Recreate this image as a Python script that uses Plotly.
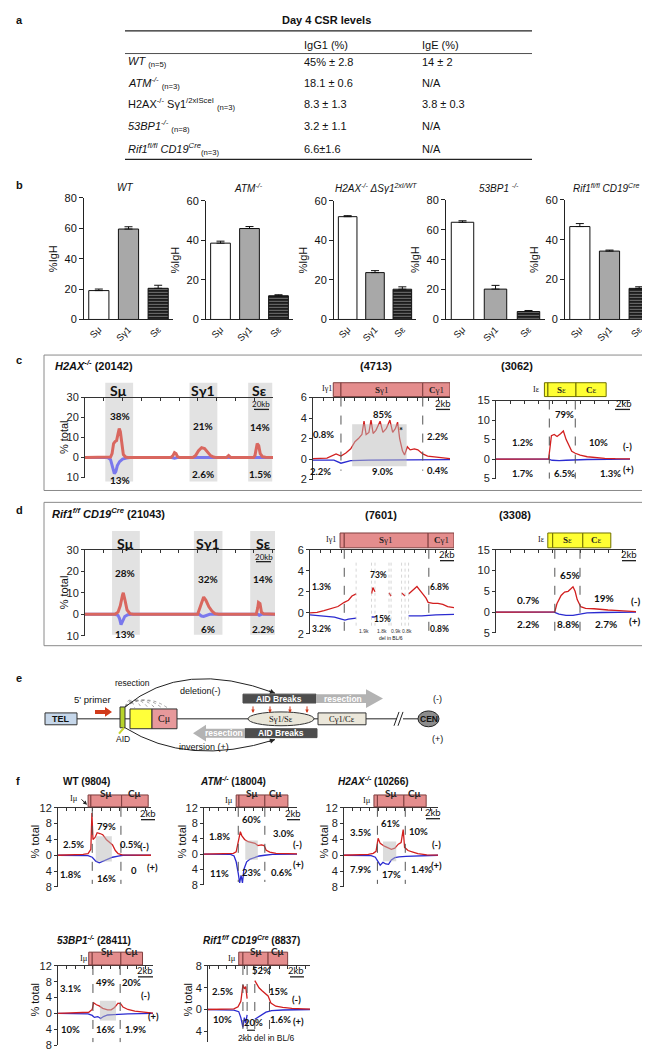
import plotly.graph_objects as go

W, H = 650, 1049
SANS = "Liberation Sans"
CAL = "Lato"
SERIF = "Liberation Serif"
RED, BLUE = "#d21f1f", "#2b2bd0"
RED_T, BLUE_T = "#d9675f", "#7a78ec"
PINK, PINK_EDGE = "#e48d8d", "#7f3f3f"
YEL, YEL_EDGE = "#ffff33", "#6f6f00"

# ---- panel a: Day 4 CSR levels ----
GENOTYPES = [
    "<i>WT</i> <sub>(n=5)</sub>",
    "<i>ATM<sup>-/-</sup></i> <sub>(n=3)</sub>",
    "H2AX<sup>-/-</sup> Sγ1<sup>/2xISceI</sup> <sub>(n=3)</sub>",
    "<i>53BP1<sup>-/-</sup></i> <sub>(n=8)</sub>",
    "<i>Rif1<sup>fl/fl</sup> CD19<sup>Cre</sup></i><sub>(n=3)</sub>",
]
IGG1 = ["45% ± 2.8", "18.1 ± 0.6", "8.3 ± 1.3", "3.2 ± 1.1", "6.6±1.6"]
IGE = ["14 ± 2", "N/A", "3.8 ± 0.3", "N/A", "N/A"]

# ---- panel b: %IgH junctions per switch region ----
S_REGIONS = ["Sμ", "Sγ1", "Sε"]
WT_IGH, WT_ERR = [19, 59.5, 20.5], [1, 1.5, 2]
ATM_IGH, ATM_ERR = [38.6, 46, 12], [1, 1, 0.5]
H2AX_IGH, H2AX_ERR = [52, 23.7, 15.3], [0.5, 1, 1.2]
BP1_IGH, BP1_ERR = [65, 20.3, 5.3], [1, 2.5, 0.7]
RIF1_IGH, RIF1_ERR = [46.6, 34.3, 15.6], [1.5, 0.5, 0.8]

# ---- panel c/d: junction profiles (x in kb, y in % total; + strand plotted negative) ----
C1_RED_KB = [0, 20, 34, 36, 38, 40, 42, 44, 45.5, 47, 49, 51, 54, 58, 114, 117, 119, 121, 123, 126,
             143, 147, 151, 155, 159, 163, 167, 171, 175, 188, 191, 194, 224, 226, 228, 229, 231, 233, 236, 240, 250]
C1_RED = [0, 0, 0.3, 2, 7, 8, 8.5, 12, 14.5, 13, 6, 1.5, 0.3, 0, 0, 1, 2.5, 2, 0.5, 0,
          0, 1, 3.5, 5, 4.5, 2.5, 1, 0.3, 0, 0, 1, 0, 0, 1, 5, 7, 6, 2, 0.5, 0.2, 0]
C1_BLUE_KB = [0, 30, 34, 37, 39, 41, 43, 46, 50, 55, 60, 115, 119, 123, 150, 153, 158, 162, 226, 229, 232, 250]
C1_BLUE = [0, 0, -1, -5, -8, -7, -4, -2, -0.7, -0.2, 0, 0, -0.3, 0, 0, -0.3, -0.3, 0, 0, -0.3, 0, 0]

C2_RED_KB = [0, 1, 2, 3.3, 4, 4.7, 5.4, 6.0, 6.5, 7.0, 7.3, 7.6, 8.0, 8.3, 8.6, 9.0, 9.6, 10.0, 10.5,
             11.0, 11.4, 11.8, 12.1, 12.4, 12.8, 13.1, 13.5, 13.9, 14.5, 15.0, 15.7, 16.4, 17.9, 19.6]
C2_RED = [0.05, 0.1, 0.1, 0.5, 0.3, 0.6, 1.0, 1.7, 2.0, 2.4, 3.7, 2.4, 2.6, 3.8, 2.5, 2.8, 3.7, 2.6, 3.0,
          3.8, 2.6, 3.0, 3.6, 2.0, 0.8, 0.4, 1.2, 0.9, 1.0, 0.9, 0.5, 0.3, 0.2, 0.05]
C2_BLUE_KB = [0, 3, 4, 4.6, 5.4, 8, 12, 15.7, 19.6]
C2_BLUE = [-0.1, -0.1, -0.4, -0.3, -0.15, -0.1, -0.1, -0.05, -0.05]

C3_RED_KB = [0, 7.5, 7.7, 7.9, 8.3, 8.7, 9.2, 9.6, 10.0, 10.4, 10.8, 11.3, 12, 13, 14, 15.5, 17, 19.1]
C3_RED = [0, 0.05, 3, 6.0, 6.3, 5.8, 6.5, 7.2, 5.0, 3.5, 2.0, 1.5, 1.0, 0.6, 0.4, 0.2, 0.1, 0.05]
C3_BLUE_KB = [0, 7.5, 8, 9, 10, 11, 13, 19.1]
C3_BLUE = [0, 0, -0.3, -0.4, -0.3, -0.2, -0.1, 0]

D1_RED_KB = [0, 40, 44, 47, 50, 51, 53, 56, 60, 64, 150, 153, 156, 158, 161, 165, 169, 173, 178,
             228, 230, 231, 233, 235, 238, 245, 253]
D1_RED = [0, 0, 1, 4, 9, 10, 7, 2, 0.3, 0, 0, 3, 7, 8, 6.5, 3.5, 1.5, 0.3, 0, 0, 3, 5.5, 5, 1, 0.2, 0, 0]
D1_BLUE_KB = [0, 40, 44, 46, 48, 50, 53, 57, 62, 152, 155, 158, 162, 166, 230, 232, 235, 253]
D1_BLUE = [0, 0, -0.5, -2, -4.8, -3.5, -1, -0.2, 0, 0, -0.8, -1, -0.5, 0, 0, -0.5, 0, 0]

D2_RED_KB = [0, 1, 2, 3, 4, 4.9, 5.5, 6.0, 6.6, 6.7, 8.8, 9.0, 9.3, 9.4, 11.3, 11.6, 11.7, 13.1, 13.6, 13.7,
             14.1, 14.7, 15.3, 15.9, 16.6, 16.9, 17.6, 18.3, 19.0, 19.7, 20.6]
D2_RED = [0, 0.05, 0.2, 0.4, 0.6, 1.0, 1.2, 1.6, 1.8, None, 1.8, 2.4, 2.0, None, 1.9, 1.6, None, 1.9, 1.6, None,
          1.8, 2.2, 2.5, 2.0, 1.4, 1.0, 0.9, 0.9, 0.8, 0.6, 0.5]
D2_BLUE_KB = [0, 2, 3.5, 4.5, 5, 5.5, 6.6, 6.7, 8.8, 9.3, 9.4, 14.1, 16, 18, 20.6]
D2_BLUE = [-0.2, -0.3, -0.4, -0.6, -0.7, -0.6, -0.5, None, -0.4, -0.4, None, -0.3, -0.3, -0.2, -0.15]

D3_RED_KB = [0, 8.4, 8.7, 9.3, 9.8, 10.3, 10.7, 11.0, 11.3, 11.6, 12.1, 12.8, 14, 15, 16, 17, 18, 20]
D3_RED = [0, 0.05, 2.0, 4.0, 4.8, 5.0, 5.6, 6.1, 5.0, 3.0, 1.3, 0.9, 0.8, 0.6, 0.5, 0.4, 0.3, 0.1]
D3_BLUE_KB = [0, 8.3, 9, 10, 11, 12, 13, 15, 20]
D3_BLUE = [0, 0, -0.5, -0.8, -0.8, -0.5, -0.2, -0.1, 0]

# ---- panel f: Sμ-region profiles ----
F1_RED_KB = [0, 2.5, 3.6, 4.3, 4.7, 4.85, 5.0, 5.3, 5.6, 6.0, 6.4, 6.9, 7.4, 7.8, 8.2, 8.6, 9.2, 13.3]
F1_RED = [0, 0.05, 0.2, 0.4, 1.5, 10.7, 4, 4.5, 5.7, 5.5, 5.2, 4.0, 3.2, 2.6, 1.2, 0.4, 0.1, 0]
F1_BLUE_KB = [0, 4.3, 4.9, 5.4, 5.9, 6.4, 7.1, 7.8, 8.6, 9.3, 13.3]
F1_BLUE = [0, -0.1, -0.5, -1.5, -1.9, -1.5, -1.0, -0.5, -0.2, 0, 0]

F2_RED_KB = [1.7, 5, 5.9, 6.3, 6.6, 6.9, 7.1, 7.5, 8.0, 8.6, 9.0, 9.4, 9.9, 10.3, 10.6, 11.1, 12, 13.7, 15]
F2_RED = [0, 0.05, 0.2, 0.6, 3, 5.8, 4.8, 3.8, 3.2, 3.0, 2.8, 2.2, 2.4, 2.2, 1.0, 0.5, 0.2, 0.1, 0.05]
F2_BLUE_KB = [1.7, 5.5, 6.0, 6.3, 6.6, 6.8, 7.0, 7.2, 7.4, 7.8, 8.3, 9.0, 9.6, 10.4, 11.5, 15]
F2_BLUE = [0, -0.1, -0.5, -2, -5, -7.5, -5.5, -7.5, -4, -2, -1.3, -0.8, -0.5, -0.3, -0.1, 0]

F3_RED_KB = [0, 3, 3.6, 4.3, 4.7, 5.0, 5.3, 5.9, 6.4, 6.9, 7.4, 7.9, 8.3, 8.6, 8.8, 9.3, 10, 10.7, 12, 13.6]
F3_RED = [0, 0.05, 0.2, 0.5, 1, 4.3, 3, 2.3, 1.8, 1.5, 1.8, 2.8, 3.2, 6.5, 2, 1.2, 0.8, 0.4, 0.1, 0.05]
F3_BLUE_KB = [0, 4, 4.6, 5.0, 5.3, 5.7, 6.1, 6.5, 6.9, 7.4, 8, 9, 10, 11, 13.6]
F3_BLUE = [0, -0.1, -0.5, -1.8, -2.5, -1.8, -2.2, -2.3, -1.2, -0.6, -0.4, -0.3, -0.2, -0.1, 0]

F4_RED_KB = [0, 3.5, 4.4, 4.9, 5.1, 5.5, 5.9, 6.4, 7.1, 7.6, 8.1, 8.6, 9.0, 9.3, 10, 11, 12, 13.6]
F4_RED = [0, 0.1, 0.3, 1.0, 2.7, 2.2, 1.9, 1.3, 0.9, 0.9, 1.5, 2.6, 2.4, 1.6, 1.0, 0.6, 0.4, 0.1]
F4_BLUE_KB = [0, 4.3, 4.9, 5.2, 5.7, 6.1, 6.5, 7.1, 8, 9, 10, 13.6]
F4_BLUE = [0, -0.1, -0.5, -1.0, -0.8, -1.3, -0.8, -0.4, -0.3, -0.2, -0.1, 0]

F5_RED_KB = [2.3, 6, 6.6, 7.0, 7.3, 7.5, 7.7, 7.9, 8.0, 9.0, 9.3, 9.6, 10, 10.4, 10.9, 11.3, 12, 13, 14.3, 16.9]
F5_RED = [0, 0.1, 0.5, 1.5, 4.5, 3.8, 4.2, 2.0, None, 5.3, 4.5, 4.0, 3.5, 3.0, 2.5, 1.2, 0.6, 0.4, 0.2, 0.05]
F5_BLUE_KB = [2.3, 6, 6.7, 7.0, 7.3, 7.5, 7.7, 7.9, 8.0, 9.0, 9.4, 9.9, 10.6, 11.4, 13, 16.9]
F5_BLUE = [0, -0.1, -0.4, -1.5, -3.3, -1.5, -2.5, -1.0, None, -1.8, -1.5, -1.0, -0.5, -0.2, -0.1, 0]


def fx(px):
    return px / W


def fy(py):
    return 1 - py / H


fig = go.Figure()
lay = dict(width=W, height=H, margin=dict(l=0, r=0, t=0, b=0), paper_bgcolor="white",
           plot_bgcolor="white", showlegend=False, font=dict(family=SANS, color="#111"))
shapes, annos = [], []


def names(n):
    s = "" if n == 1 else str(n)
    return "xaxis" + s, "yaxis" + s, "x" + s, "y" + s


def label(s, px, py, size=10, family=SANS, color="#111", xanchor="center", angle=0):
    annos.append(dict(text=s, x=fx(px), y=fy(py), xref="paper", yref="paper", showarrow=False,
                      xanchor=xanchor, yanchor="middle", textangle=angle,
                      font=dict(size=size, family=family, color=color)))


def pct(s, px, py, size=9.5):
    label(f"<b>{s}</b>", px, py, size=size, family=CAL)


def line(x0, y0, x1, y1, color="#222", width=1, dash="solid"):
    shapes.append(dict(type="line", xref="paper", yref="paper", x0=fx(x0), y0=fy(y0), x1=fx(x1), y1=fy(y1),
                       line=dict(color=color, width=width, dash=dash)))


def rect(x0, y0, x1, y1, fill, edge="#333", width=1, kind="rect"):
    shapes.append(dict(type=kind, xref="paper", yref="paper", x0=fx(x0), y0=fy(y1), x1=fx(x1), y1=fy(y0),
                       fillcolor=fill, line=dict(color=edge, width=width)))


def poly(points, fill):
    d = "M " + " L ".join(f"{fx(x):.5f},{fy(y):.5f}" for x, y in points) + " Z"
    shapes.append(dict(type="path", xref="paper", yref="paper", path=d, fillcolor=fill, line=dict(width=0)))


def curve(p0, c, p1, color="#222", width=1, dash="solid"):
    d = (f"M {fx(p0[0]):.5f},{fy(p0[1]):.5f} Q {fx(c[0]):.5f},{fy(c[1]):.5f} "
         f"{fx(p1[0]):.5f},{fy(p1[1]):.5f}")
    shapes.append(dict(type="path", xref="paper", yref="paper", path=d, line=dict(color=color, width=width, dash=dash)))


def head(px, py, dx, dy, color="#222", size=1.0, width=1):
    annos.append(dict(x=fx(px), y=fy(py), xref="paper", yref="paper", ax=dx, ay=dy, text="",
                      showarrow=True, arrowhead=2, arrowsize=size, arrowwidth=width,
                      arrowcolor=color, standoff=0))


def profile(n, box, xr, yr, yticks, red, blue, dtick, thick=False):
    l, t, r, b = box
    xa, ya, xs, ys = names(n)
    lay[xa] = dict(domain=[fx(l), fx(r)], range=xr, anchor=ys, side="top", showline=True,
                   linecolor="#333", linewidth=1, ticks="inside", ticklen=3, tickcolor="#333",
                   tick0=0, dtick=dtick, showticklabels=False, showgrid=False, zeroline=False)
    lay[ya] = dict(domain=[fy(b), fy(t)], range=yr, anchor=xs, showline=True, linecolor="#333",
                   linewidth=1, ticks="outside", ticklen=3, tickcolor="#333", tickvals=yticks,
                   ticktext=[str(abs(v)) for v in yticks], tickfont=dict(size=11, family=SANS, color="#222"),
                   showgrid=False, zeroline=False)
    w = 3 if thick else 1.3
    fig.add_trace(go.Scatter(x=blue[0], y=blue[1], mode="lines", xaxis=xs, yaxis=ys, hoverinfo="skip",
                             line=dict(color=BLUE_T if thick else BLUE, width=w), connectgaps=False))
    fig.add_trace(go.Scatter(x=red[0], y=red[1], mode="lines", xaxis=xs, yaxis=ys, hoverinfo="skip",
                             line=dict(color=RED_T if thick else RED, width=w), connectgaps=False))
    return xs, ys


def genes(xs, y0, y1, items, fam=SERIF, size=9):
    for text, a, b, fill, edge in items:
        shapes.append(dict(type="rect", xref=xs, yref="paper", x0=a, x1=b, y0=fy(y1), y1=fy(y0),
                           fillcolor=fill, line=dict(color=edge, width=1)))
        if text:
            annos.append(dict(text=text, x=(a + b) / 2, y=fy((y0 + y1) / 2), xref=xs, yref="paper",
                              showarrow=False, font=dict(size=size, family=fam, color="#222")))


def vdash(xs, kb, y0, y1, color="#555", dash="dash", width=1):
    shapes.append(dict(type="line", xref=xs, yref="paper", x0=kb, x1=kb, y0=fy(y0), y1=fy(y1),
                       line=dict(color=color, width=width, dash=dash)))


def band(xs, ys, x0, x1, y0, y1):
    shapes.append(dict(type="rect", xref=xs, yref=ys, x0=x0, x1=x1, y0=y0, y1=y1, layer="above",
                       fillcolor="rgba(185,185,185,0.5)", line=dict(width=0)))


def scalebar(text, px, py, x0, x1, ly, size=9.5):
    label(text, px, py, size=size, family=CAL)
    line(x0, ly, x1, ly, width=1.3)


# ================= panel letters =================
for letter, py in [("a", 6), ("b", 173), ("c", 350), ("d", 502), ("e", 672), ("f", 776)]:
    label(f"<b>{letter}</b>", 6, py, size=11, xanchor="left")

# ================= a: table =================
label("<b>Day 4 CSR levels</b>", 318, 6, size=11)
line(117, 17, 524, 17, width=1.2)
line(117, 40, 524, 40, width=0.8)
line(117, 147, 524, 147, width=1.2)
label("IgG1 (%)", 294, 31, size=11, xanchor="left")
label("IgE (%)", 412, 31, size=11, xanchor="left")
for g, a, e, py in zip(GENOTYPES, IGG1, IGE, [49, 70, 91, 113, 137]):
    label(g, 118, py, size=11, xanchor="left")
    label(a, 294, py, size=11, xanchor="left")
    label(e, 412, py, size=11, xanchor="left")

# ================= b: bar charts =================
bar_specs = [
    (12, (76, 186, 165, 309), 80, WT_IGH, WT_ERR, "<i>WT</i>", 117),
    (13, (198, 189, 285, 309), 60, ATM_IGH, ATM_ERR, "<i>ATM<sup>-/-</sup></i>", 240),
    (14, (326, 189, 408, 309), 60, H2AX_IGH, H2AX_ERR, "<i>H2AX<sup>-/-</sup> ΔSγ1<sup>2xI/WT</sup></i>", 368),
    (15, (438, 188, 537, 309), 80, BP1_IGH, BP1_ERR, "<i>53BP1 <sup>-/-</sup></i>", 491),
    (16, (557, 188, 646, 309), 60, RIF1_IGH, RIF1_ERR, "<i>Rif1<sup>fl/fl</sup> CD19<sup>Cre</sup></i>", 598),
]
for n, (l, t, r, b), ymax, vals, errs, title, tx in bar_specs:
    xa, ya, xs, ys = names(n)
    lay[xa] = dict(domain=[fx(l), fx(r)], anchor=ys, showline=True, linecolor="#222", linewidth=1,
                   ticks="", tickangle=-45, tickfont=dict(size=9.5, family=SANS), range=[-0.5, 2.5],
                   showgrid=False, zeroline=False)
    lay[ya] = dict(domain=[fy(b), fy(t)], range=[0, ymax], dtick=20, anchor=xs, showline=True,
                   linecolor="#222", linewidth=1, ticks="outside", ticklen=4, tickcolor="#222",
                   tickfont=dict(size=11, family=SANS), showgrid=False, zeroline=False,
                   title=dict(text="%IgH", font=dict(size=11, family=SANS), standoff=4))
    fig.add_trace(go.Bar(
        x=S_REGIONS, y=vals, xaxis=xs, yaxis=ys, width=0.68, hoverinfo="skip",
        marker=dict(color=["white", "#a8a8a8", "#1c1c1c"], line=dict(color="#111", width=1),
                    pattern=dict(shape=["", "", "-"], fgcolor="#5c5c5c", size=3, solidity=0.25)),
        error_y=dict(type="data", array=errs, arrayminus=[0, 0, 0], symmetric=False,
                     color="#111", thickness=1, width=4),
    ))
    label(title, tx, 176, size=10)

# ================= c / d frames =================
rect(36, 345, 648, 482, "rgba(0,0,0,0)", edge="#8a8a8a", width=1)
rect(36, 494, 648, 639, "rgba(0,0,0,0)", edge="#8a8a8a", width=1)
label("<b><i>H2AX<sup>-/-</sup></i> (20142)</b>", 45, 355, size=11, xanchor="left")
label("<b><i>Rif1<sup>f/f</sup> CD19<sup>Cre</sup></i> (21043)</b>", 42, 505, size=11, xanchor="left")

# ---- c1 ----
xs, ys = profile(1, (77, 388, 265, 469), [0, 250], [-10, 30], [-10, 0, 10, 20, 30],
                 (C1_RED_KB, C1_RED), (C1_BLUE_KB, C1_BLUE), 25, thick=True)
for a, b in [(27, 64), (139, 176), (217, 249)]:
    shapes.append(dict(type="rect", xref=xs, yref="paper", x0=a, x1=b, y0=fy(473), y1=fy(373),
                       layer="below", fillcolor="#e2e2e2", line=dict(width=0)))
for s, px in [("Sμ", 111), ("Sγ1", 195), ("Sε", 252)]:
    label(f"<b>{s}</b>", px, 381, size=14, family=CAL)
for s, px, py in [("38%", 112, 407), ("21%", 195, 417), ("14%", 252, 418),
                  ("13%", 112, 471), ("2.6%", 195, 465), ("1.5%", 252, 465)]:
    pct(s, px, py, size=10)
scalebar("20kb", 253, 395, 246, 261, 400, size=8)
label("% total", 56, 428, size=11, angle=-90)

# ---- c2 ----
xs, ys = profile(2, (305, 388, 442, 471), [0, 19.6], [-2, 6], [-2, 0, 2, 4, 6],
                 (C2_RED_KB, C2_RED), (C2_BLUE_KB, C2_BLUE), 1.5)
genes(xs, 373, 387, [("", 2.9, 4.0, PINK, PINK_EDGE), ("<b>S</b>γ1", 4.0, 15.7, PINK, PINK_EDGE),
                     ("<b>C</b>γ1", 15.7, 19.6, PINK, PINK_EDGE)])
label("Iγ1", 319, 379, size=8, family=SERIF)
vdash(xs, 4.0, 388, 462)
vdash(xs, 15.7, 388, 462)
band(xs, ys, 5.6, 13.4, -0.7, 3.4)
label("<b>(4713)</b>", 368, 356, size=11)
for s, px, py in [("85%", 375, 405), ("0.8%", 315, 425), ("2.2%", 429, 427), ("2.2%", 312, 463),
                  ("9.0%", 375, 463), ("0.4%", 429, 462), ("*", 393, 421)]:
    pct(s, px, py)
scalebar("2kb", 435, 394, 428, 442, 400)

# ---- c3 ----
xs, ys = profile(3, (488, 391, 622, 470), [0, 19.1], [-5, 15], [-5, 0, 5, 10, 15],
                 (C3_RED_KB, C3_RED), (C3_BLUE_KB, C3_BLUE), 2)
genes(xs, 373, 387, [("", 6.9, 7.4, YEL, YEL_EDGE), ("<b>S</b>ε", 7.4, 11.4, YEL, YEL_EDGE),
                     ("<b>C</b>ε", 11.4, 15.7, YEL, YEL_EDGE)])
label("Iε", 528, 380, size=8, family=SERIF)
vdash(xs, 7.6, 391, 470)
vdash(xs, 11.3, 391, 470)
label("<b>(3062)</b>", 509, 356, size=11)
for s, px, py in [("79%", 556, 405), ("1.2%", 514, 433), ("10%", 590, 433), ("(-)", 619, 438),
                  ("1.7%", 514, 465), ("6.5%", 556, 465), ("1.3%", 602, 465), ("(+)", 620, 461)]:
    pct(s, px, py)
scalebar("2kb", 616, 394, 607, 622, 400)

# ---- d1 ----
xs, ys = profile(4, (77, 542, 267, 629), [0, 253], [-10, 30], [-10, 0, 10, 20, 30],
                 (D1_RED_KB, D1_RED), (D1_BLUE_KB, D1_BLUE), 25, thick=True)
for a, b in [(36, 73), (145, 183), (220, 253)]:
    shapes.append(dict(type="rect", xref=xs, yref="paper", x0=a, x1=b, y0=fy(628), y1=fy(523),
                       layer="below", fillcolor="#e2e2e2", line=dict(width=0)))
for s, px in [("Sμ", 117), ("Sγ1", 200), ("Sε", 255)]:
    label(f"<b>{s}</b>", px, 536, size=14, family=CAL)
for s, px, py in [("28%", 117, 565), ("32%", 200, 572), ("14%", 255, 572),
                  ("13%", 117, 627), ("6%", 200, 622), ("2.2%", 255, 622)]:
    pct(s, px, py, size=10)
scalebar("20kb", 256, 549, 248, 263, 554, size=8)
label("% total", 56, 585, size=11, angle=-90)

# ---- d2 ----
xs, ys = profile(5, (302, 542, 446, 627), [0, 20.6], [-2, 6], [-2, 0, 2, 4, 6],
                 (D2_RED_KB, D2_RED), (D2_BLUE_KB, D2_BLUE), 1.5)
genes(xs, 525, 540, [("", 4.3, 4.9, PINK, PINK_EDGE), ("<b>S</b>γ1", 4.9, 16.9, PINK, PINK_EDGE),
                     ("<b>C</b>γ1", 16.9, 20.6, PINK, PINK_EDGE)])
label("Iγ1", 323, 532, size=8, family=SERIF)
vdash(xs, 4.9, 542, 625)
vdash(xs, 17.0, 542, 625)
for kb in [6.6, 8.8, 9.3, 11.3, 11.6, 13.1, 13.6, 14.1]:
    vdash(xs, kb, 555, 620, color="#c4c4c4", dash="dot", width=0.7)
for s, kb in [("1.9k", 7.7), ("1.8k", 10.3), ("0.9k", 12.35), ("0.8k", 13.85)]:
    annos.append(dict(text=s, x=kb, y=fy(624), xref=xs, yref="paper", showarrow=False,
                      font=dict(size=5, family=SANS, color="#333")))
label("del in BL/6", 383, 631, size=5)
label("<b>(7601)</b>", 373, 507, size=11)
for s, px, py in [("73%", 370, 567), ("1.3%", 313, 580), ("6.8%", 431, 580), ("3.2%", 313, 622),
                  ("15%", 375, 612), ("0.8%", 431, 622)]:
    pct(s, px, py, size=8.5)
scalebar("2kb", 439, 547, 432, 446, 553)

# ---- d3 ----
xs, ys = profile(6, (488, 542, 628, 626), [0, 20], [-5, 15], [-5, 0, 5, 10, 15],
                 (D3_RED_KB, D3_RED), (D3_BLUE_KB, D3_BLUE), 2)
genes(xs, 525, 540, [("", 7.4, 8.1, YEL, YEL_EDGE), ("<b>S</b>ε", 8.1, 12.4, YEL, YEL_EDGE),
                     ("<b>C</b>ε", 12.4, 16.4, YEL, YEL_EDGE)])
label("Iε", 533, 532, size=8, family=SERIF)
vdash(xs, 8.4, 542, 626)
vdash(xs, 12.0, 542, 626)
label("<b>(3308)</b>", 507, 507, size=11)
for s, px, py in [("65%", 562, 567), ("0.7%", 520, 593), ("19%", 596, 591), ("(-)", 627, 594),
                  ("2.2%", 520, 617), ("8.8%", 560, 617), ("2.7%", 598, 617), ("(+)", 627, 614)]:
    pct(s, px, py, size=10)
scalebar("2kb", 621, 547, 614, 628, 553)

# ================= e: schematic =================
line(69, 713, 112, 713)
line(117, 713, 122, 713)
line(169, 713, 240, 713)
line(306, 713, 310, 713)
line(358, 713, 389, 713)
line(395, 713, 410, 713)
line(386, 720, 391, 706)
line(390, 720, 395, 706)
rect(37, 707, 69, 719, "#c6d7ea")
label("<b>TEL</b>", 53, 713, size=9)
poly([(87, 704), (97, 704), (97, 701), (104, 706), (97, 711), (97, 708), (87, 708)], "#d13a1b")
label("5' primer", 84, 693, size=9.5)
rect(112, 701, 117, 722, "#b7d42d")
rect(122, 703, 144, 723, "#ffff3a")
rect(144, 703, 169, 723, "#e7999b")
label("Cμ", 156, 713, size=10, family=SERIF)
line(116, 722, 111, 728, color="#c8d42d", width=2)
label("AID", 115, 733, size=8.5)
label("resection", 124, 677, size=8.5)
for xe in [127, 134, 141, 148, 155, 161]:
    curve((117, 701), ((117 + xe) / 2, 686), (xe, 703), color="#8a8a8a", width=0.8, dash="dot")
curve((117, 701), (175, 652), (267, 687))
head(267, 687, -7.5, -2.8)
label("deletion(-)", 192, 685, size=9)
curve((117, 722), (180, 762), (267, 734))
head(267, 734, -7.6, 2.4)
label("inversion (+)", 196, 741, size=9)
rect(235, 688, 308, 697, "#4d4d4d", edge="#4d4d4d")
poly([(308, 688), (358, 688), (358, 683), (375, 692.5), (358, 702), (358, 697), (308, 697)], "#b3b3b3")
label("<b>AID Breaks</b>", 271, 692.5, size=8.5, color="white")
label("<b>resection</b>", 335, 692.5, size=8.5, color="white")
for xa_ in [245, 262, 282, 299]:
    head(xa_, 707, 0, -8, color="#d13a1b", size=0.7)
rect(240, 706, 306, 720, "#e9e6d9", kind="circle")
label("Sγ1/Sε", 273, 713, size=8.5, family=SERIF)
rect(310, 707, 358, 719, "#ebe7da")
label("Cγ1/Cε", 334, 713, size=8.5, family=SERIF)
rect(237, 723, 309, 732, "#4d4d4d", edge="#4d4d4d")
poly([(237, 723), (198, 723), (198, 719), (185, 727.5), (198, 736), (198, 732), (237, 732)], "#b3b3b3")
label("<b>AID Breaks</b>", 273, 727.5, size=8.5, color="white")
label("<b>resection</b>", 216, 727.5, size=8.5, color="white")
rect(410, 705, 431, 721, "#8c8c8c", edge="#222", kind="circle")
label("<b>CEN</b>", 420.5, 713, size=8.5)
label("(-)", 429, 693, size=9)
label("(+)", 429, 733, size=9)

# ================= f: Sμ profiles =================
f_specs = [
    (7, (50, 803, 143, 883), [0, 13.3], [-8, 12], [-8, -4, 0, 4, 8, 12], (F1_RED_KB, F1_RED), (F1_BLUE_KB, F1_BLUE),
     (790, 802), [4.3, 4.7, 9.1, 12.9], [4.9, 9.0], (5.4, 7.7, -1.6, 4.8),
     "<b>WT (9804)</b>", 78, 776, 66, 793, 27, 837),
    (8, (196, 803, 289, 881), [1.7, 15], [-8, 12], [-8, -4, 0, 4, 8, 12], (F2_RED_KB, F2_RED), (F2_BLUE_KB, F2_BLUE),
     (790, 802), [6.3, 6.7, 10.4, 13.7], [6.6, 10.4], (7.6, 9.4, -1.5, 3.5),
     "<b><i>ATM<sup>-/-</sup></i> (18004)</b>", 225, 776, 221, 795, 174, 837),
    (9, (336, 803, 430, 883), [0.1, 13.6], [-8, 12], [-8, -4, 0, 4, 8, 12], (F3_RED_KB, F3_RED), (F3_BLUE_KB, F3_BLUE),
     (790, 802), [4.4, 4.9, 8.7, 11.9], [4.9, 8.9], (5.7, 7.6, -1.5, 3.5),
     "<b><i>H2AX<sup>-/-</sup></i> (10266)</b>", 366, 776, 359, 795, 316, 837),
    (10, (50, 963, 145, 1043), [0, 13.6], [-8, 12], [-8, -4, 0, 4, 8, 12], (F4_RED_KB, F4_RED), (F4_BLUE_KB, F4_BLUE),
     (949, 962), [4.4, 4.9, 9.0, 12.1], [5.0, 8.9], (6.0, 8.3, -1.8, 3.2),
     "<b><i>53BP1<sup>-/-</sup></i> (28411)</b>", 86, 937, 76, 955, 27, 997),
    (11, (200, 963, 302, 1040), [2.3, 16.9], [-6, 8], [-4, 0, 4, 8], (F5_RED_KB, F5_RED), (F5_BLUE_KB, F5_BLUE),
     (949, 962), [6.7, 7.3, 10.9, 13.7], [7.3, 7.9, 9.0, 11.1], None,
     "<b><i>Rif1<sup>f/f</sup> CD19<sup>Cre</sup></i> (8837)</b>", 243, 937, 224, 955, 180, 997),
]
for (n, box, xr, yr, yt, red, blue, gy, gb, dashes, bnd, title, tx, ty, ix, iy, ylx, yly) in f_specs:
    xs, ys = profile(n, box, xr, yr, yt, red, blue, 1.25)
    genes(xs, gy[0], gy[1], [("", gb[0], gb[1], PINK, PINK_EDGE), ("<b>Sμ</b>", gb[1], gb[2], PINK, PINK_EDGE),
                             ("<b>Cμ</b>", gb[2], gb[3], PINK, PINK_EDGE)], fam=CAL, size=10)
    for kb in dashes:
        vdash(xs, kb, box[1], box[3] - 3)
    if bnd:
        band(xs, ys, *bnd)
    label(title, tx, ty, size=10)
    label("Iμ", ix, iy, size=8.5, family=SERIF)
    label("% total", ylx, yly, size=11, angle=-90)

head(79, 800, -7, -7, size=0.8)

for s, px, py in [("79%", 98, 822), ("2.5%", 65, 840), ("0.5%", 122, 840), ("(-)", 136, 842),
                  ("1.8%", 62, 870), ("16%", 98, 874), ("0", 126, 866), ("(+)", 144, 863),
                  ("60%", 243, 815), ("1.8%", 212, 832), ("3.0%", 275, 829), ("(-)", 289, 840),
                  ("11%", 212, 869), ("23%", 243, 868), ("0.6%", 273, 868), ("(+)", 290, 860),
                  ("61%", 382, 819), ("3.5%", 352, 828), ("10%", 410, 827), ("(-)", 428, 840),
                  ("7.9%", 352, 865), ("17%", 383, 870), ("1.4%", 413, 865), ("(+)", 428, 861),
                  ("3.1%", 63, 986), ("49%", 97, 980), ("20%", 123, 980), ("(-)", 137, 993),
                  ("10%", 63, 1027), ("16%", 97, 1027), ("1.9%", 127, 1027), ("(+)", 145, 1014),
                  ("52%", 253, 968), ("2.5%", 214, 989), ("15%", 270, 989), ("(-)", 288, 997),
                  ("10%", 214, 1017), ("20%", 245, 1020), ("1.6%", 272, 1017), ("(+)", 290, 1019)]:
    pct(s, px, py)
scalebar("2kb", 140, 809, 133, 147, 815)
scalebar("2kb", 285, 809, 279, 292, 815)
scalebar("2kb", 425, 808, 418, 432, 814)
scalebar("2kb", 137, 968, 130, 145, 974)
scalebar("2kb", 288, 968, 282, 296, 974)
line(239, 1028, 247, 1028, width=1.2)
label("2kb del in BL/6", 258, 1036, size=8.5)

lay["shapes"] = shapes
lay["annotations"] = annos
fig.update_layout(**lay)
fig.write_html("out.html")
